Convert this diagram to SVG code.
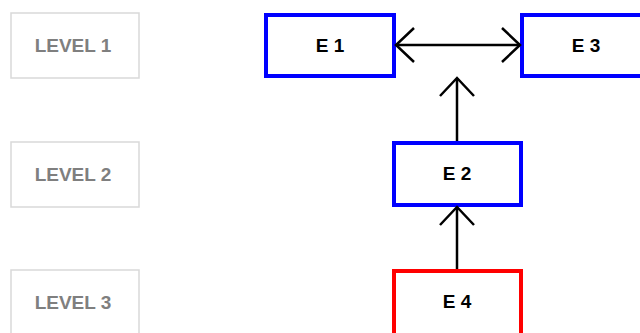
<svg xmlns="http://www.w3.org/2000/svg" width="640" height="333" viewBox="0 0 640 333">
<style>
.lvl{fill:#fff;stroke:#d9d9d9;stroke-width:1.5}
.lt{font-family:"Liberation Sans",Arial,sans-serif;font-weight:bold;font-size:19px;fill:#7f7f7f;text-anchor:middle;dominant-baseline:central}
.ent{fill:#fff;stroke:#0000ff;stroke-width:4}
.red{stroke:#ff0000}
.et{font-family:"Liberation Sans",Arial,sans-serif;font-weight:bold;font-size:19px;fill:#000;text-anchor:middle;dominant-baseline:central}
.c{stroke:#000;stroke-width:2.5;fill:none}
</style>
<defs>
<marker id="ah" markerUnits="userSpaceOnUse" viewBox="-24 -22 28 44" markerWidth="28" markerHeight="44" refX="0" refY="0" orient="auto-start-reverse">
<path d="M-18,-17 L0,0 L-18,17" fill="none" stroke="#000" stroke-width="2.5"/>
</marker>
</defs>
<g id="level1"><rect class="lvl" x="11" y="13" width="128" height="65"/><text class="lt" x="73" y="45">LEVEL 1</text></g>
<g id="level2"><rect class="lvl" x="11" y="142" width="128" height="65"/><text class="lt" x="73" y="174">LEVEL 2</text></g>
<g id="level3"><rect class="lvl" x="11" y="270" width="128" height="65"/><text class="lt" x="73" y="302">LEVEL 3</text></g>
<g id="e1"><rect class="ent" x="266" y="15" width="128" height="61"/><text class="et" x="330" y="45">E 1</text></g>
<g id="e3"><rect class="ent" x="522" y="15" width="128" height="61"/><text class="et" x="586" y="45">E 3</text></g>
<g id="e2"><rect class="ent" x="394" y="143" width="127" height="62"/><text class="et" x="457" y="173">E 2</text></g>
<g id="e4"><rect class="ent red" x="394" y="271" width="127" height="70"/><text class="et" x="457" y="301">E 4</text></g>
<g id="connectors">
<line class="c" x1="396" y1="45" x2="520" y2="45" marker-start="url(#ah)" marker-end="url(#ah)"/>
<line class="c" x1="457" y1="141" x2="457" y2="78" marker-end="url(#ah)"/>
<line class="c" x1="457" y1="269" x2="457" y2="207" marker-end="url(#ah)"/>
</g>
</svg>
